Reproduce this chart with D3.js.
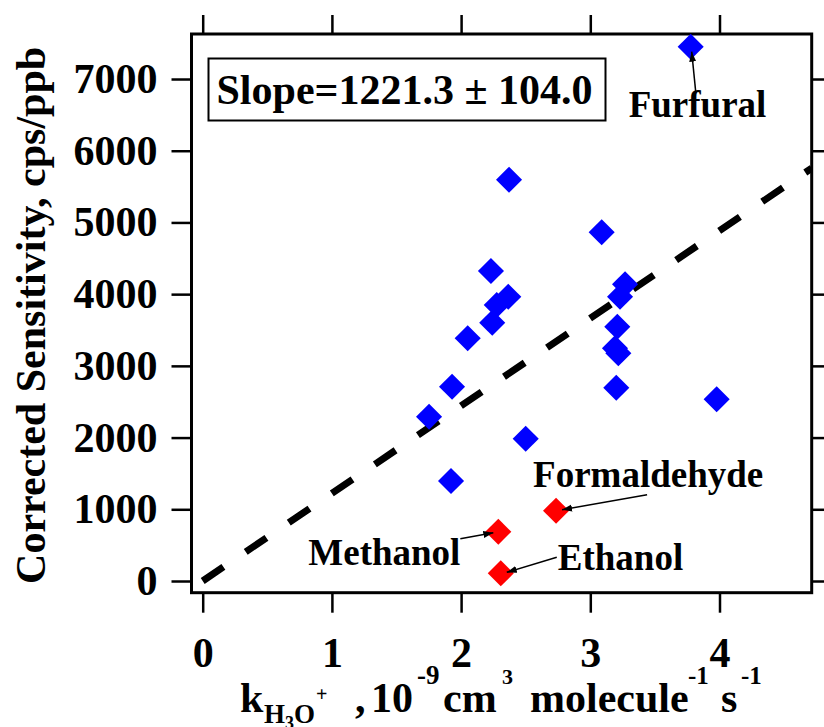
<!DOCTYPE html>
<html>
<head>
<meta charset="utf-8">
<script src="https://cdn.jsdelivr.net/npm/d3@7"></script>
<style>
body { margin: 0; background: #fff; }
svg text { font-family: "Liberation Serif", "Times New Roman", serif; font-weight: bold; fill: #000; }
</style>
</head>
<body>
<svg id="chart" width="824" height="727"></svg>
<script>
// blue compounds: rate constant (1e-9 cm3/molecule/s) and corrected sensitivity (cps/ppb)
const blueK = [3.777, 2.371, 3.088, 2.231, 2.365, 2.276, 2.241, 2.051, 3.269, 3.230,
               3.209, 3.191, 3.217, 3.201, 1.930, 1.752, 2.500, 3.978, 1.922];
const blueS = [7451, 5596, 4862, 4323, 3964, 3848, 3602, 3384, 4137, 3964,
               3546, 3245, 3175, 2695, 2709, 2291, 1984, 2534, 1394];
// red compounds
const redNames = ["Formaldehyde", "Methanol", "Ethanol"];
const redK = [2.735, 2.288, 2.307];
const redS = [980, 687, 107];

const slope = 1221.3, slopeErr = 104.0;
const xTicks = [0, 1, 2, 3, 4];
const yTicks = [0, 1000, 2000, 3000, 4000, 5000, 6000, 7000];

const svg = d3.select("#chart"),
    pLeft = 191.5, pRight = 811.7, pTop = 34, pBottom = 592.7;

const x = d3.scaleLinear().domain([-0.0867, 4.7136]).range([pLeft, pRight]),
    y = d3.scaleLinear().domain([-163.1, 7627.6]).range([pBottom, pTop]);

const defs = svg.append("defs");
defs.append("clipPath").attr("id", "plot-clip")
    .append("rect")
    .attr("x", pLeft).attr("y", pTop)
    .attr("width", pRight - pLeft).attr("height", pBottom - pTop);

defs.append("marker")
    .attr("id", "head")
    .attr("viewBox", "0 0 10 10")
    .attr("refX", 10).attr("refY", 5)
    .attr("markerWidth", 10).attr("markerHeight", 10)
    .attr("markerUnits", "userSpaceOnUse")
    .attr("orient", "auto")
    .append("path").attr("d", "M0,1.5L10,5L0,8.5Z").attr("fill", "#000");

function styleAxis(g) {
    g.select(".domain").remove();
    g.selectAll(".tick line").attr("stroke", "#000").attr("stroke-width", 2.5);
    g.selectAll("text")
        .attr("font-size", 42)
        .attr("font-family", "Liberation Serif, Times New Roman, serif")
        .attr("font-weight", "bold")
        .attr("fill", "#000");
}

// axes
svg.append("g")
    .attr("transform", "translate(0," + pBottom + ")")
    .call(d3.axisBottom(x).tickValues(xTicks).tickSize(20).tickFormat(d3.format("d")))
    .call(styleAxis)
    .selectAll("text").attr("y", 74).attr("dy", 0);

svg.append("g")
    .attr("transform", "translate(0," + pTop + ")")
    .call(d3.axisTop(x).tickValues(xTicks).tickSize(19).tickFormat(""))
    .call(styleAxis);

svg.append("g")
    .attr("transform", "translate(" + pLeft + ",0)")
    .call(d3.axisLeft(y).tickValues(yTicks).tickSize(20).tickPadding(14).tickFormat(d3.format("d")))
    .call(styleAxis);

svg.append("g")
    .attr("transform", "translate(" + pRight + ",0)")
    .call(d3.axisRight(y).tickValues(yTicks).tickSize(20).tickFormat(""))
    .call(styleAxis);

// frame
svg.append("rect")
    .attr("x", pLeft).attr("y", pTop)
    .attr("width", pRight - pLeft).attr("height", pBottom - pTop)
    .attr("fill", "none").attr("stroke", "#000").attr("stroke-width", 3);

// fit line through origin
const fitX = [0, x.domain()[1]];
svg.append("path")
    .datum(fitX)
    .attr("clip-path", "url(#plot-clip)")
    .attr("d", d3.line().x(d => x(d)).y(d => y(slope * d)))
    .attr("fill", "none")
    .attr("stroke", "#000")
    .attr("stroke-width", 7)
    .attr("stroke-dasharray", "25,27");

const diamond = d3.symbol().type(d3.symbolSquare).size(340);

svg.append("g").selectAll("path")
    .data(blueK.map((k, i) => ({k: k, s: blueS[i]})))
    .enter().append("path")
    .attr("d", diamond)
    .attr("transform", d => "translate(" + x(d.k) + "," + y(d.s) + ") rotate(45)")
    .attr("fill", "#0000ff");

svg.append("g").selectAll("path")
    .data(redK.map((k, i) => ({k: k, s: redS[i]})))
    .enter().append("path")
    .attr("d", diamond)
    .attr("transform", d => "translate(" + x(d.k) + "," + y(d.s) + ") rotate(45)")
    .attr("fill", "#ff0000");

// annotations: label and arrow offsets in px relative to the marked point
const notes = [
    {text: "Furfural", k: blueK[0], s: blueS[0], lx: -62, ly: 70, ax: 5, ay: 45, bx: 1, by: 5},
    {text: redNames[0], k: redK[0], s: redS[0], lx: -23, ly: -24, ax: 91, ay: -16, bx: 6, by: -1},
    {text: redNames[1], k: redK[1], s: redS[1], lx: -190, ly: 33, ax: -38, ay: 7, bx: -5, by: 1},
    {text: redNames[2], k: redK[2], s: redS[2], lx: 57, ly: -3, ax: 56, ay: -16, bx: 6, by: -1}
];

const ann = svg.append("g").selectAll("g").data(notes).enter().append("g");
ann.append("line")
    .attr("x1", d => x(d.k) + d.ax).attr("y1", d => y(d.s) + d.ay)
    .attr("x2", d => x(d.k) + d.bx).attr("y2", d => y(d.s) + d.by)
    .attr("stroke", "#000").attr("stroke-width", 1.5)
    .attr("marker-end", "url(#head)");
ann.append("text")
    .attr("x", d => x(d.k) + d.lx).attr("y", d => y(d.s) + d.ly)
    .attr("font-size", 37)
    .text(d => d.text);

// slope box
svg.append("rect")
    .attr("x", 208.5).attr("y", 58.5).attr("width", 397).attr("height", 62)
    .attr("fill", "#fff").attr("stroke", "#000").attr("stroke-width", 2);
svg.append("text")
    .attr("x", 216.5).attr("y", 104)
    .attr("font-size", 42)
    .text("Slope=" + slope.toFixed(1) + " \u00b1 " + slopeErr.toFixed(1));

// axis titles
svg.append("text")
    .attr("transform", "translate(45," + ((pTop + pBottom) / 2 + 2) + ") rotate(-90)")
    .attr("text-anchor", "middle")
    .attr("font-size", 42)
    .text("Corrected Sensitivity, cps/ppb");

const xt = svg.append("text").attr("font-size", 42);
xt.append("tspan").attr("x", 240).attr("y", 712).text("k");
xt.append("tspan").attr("x", 264).attr("y", 723).attr("font-size", 27).text("H");
xt.append("tspan").attr("x", 285).attr("y", 729).attr("font-size", 18).text("3");
xt.append("tspan").attr("x", 294).attr("y", 723).attr("font-size", 27).text("O");
xt.append("tspan").attr("x", 316).attr("y", 701).attr("font-size", 20).text("+");
xt.append("tspan").attr("x", 355).attr("y", 712).text(",");
xt.append("tspan").attr("x", 371).attr("y", 712).text("10");
xt.append("tspan").attr("x", 417).attr("y", 684).attr("font-size", 27).text("-9");
xt.append("tspan").attr("x", 443).attr("y", 712).text("cm");
xt.append("tspan").attr("x", 502).attr("y", 684).attr("font-size", 22).text("3");
xt.append("tspan").attr("x", 530).attr("y", 712).text("molecule");
xt.append("tspan").attr("x", 688).attr("y", 684).attr("font-size", 25).text("-1");
xt.append("tspan").attr("x", 721).attr("y", 712).text("s");
xt.append("tspan").attr("x", 741).attr("y", 684).attr("font-size", 25).text("-1");
</script>
</body>
</html>
